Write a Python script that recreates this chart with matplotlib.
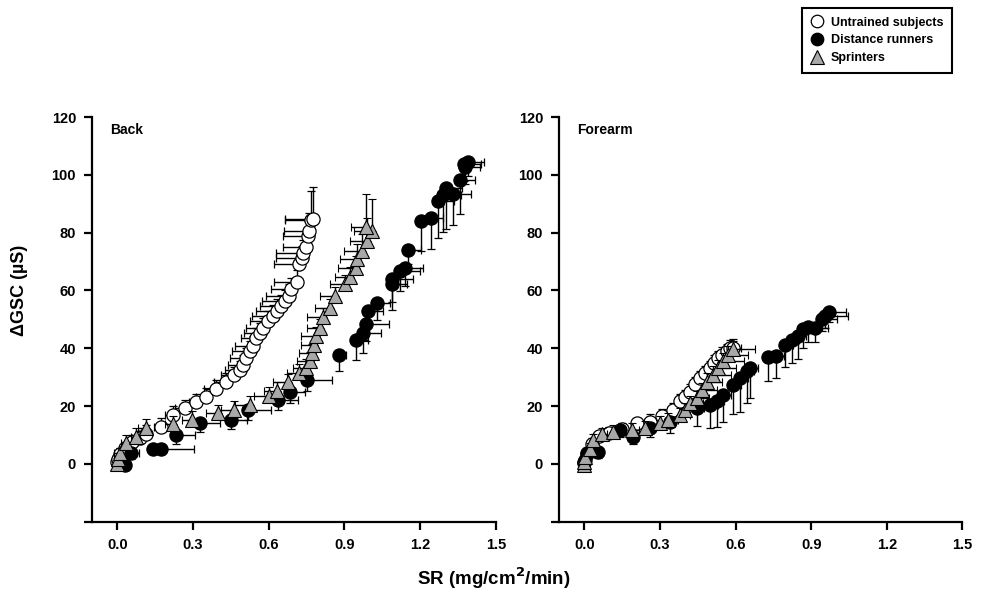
import matplotlib
matplotlib.use("Agg")
import matplotlib.pyplot as plt
from matplotlib.lines import Line2D

plt.rcParams['font.family'] = ['Liberation Sans', 'DejaVu Sans']
plt.rcParams['font.weight'] = 'bold'

# ---------------- Data: Back ----------------
back_untr_x = [0.00, 0.003, 0.01, 0.03, 0.06, 0.09, 0.115, 0.175, 0.22, 0.267, 0.313, 0.353, 0.392,
               0.432, 0.461, 0.485, 0.50, 0.511, 0.524, 0.538, 0.551, 0.564, 0.578, 0.597, 0.615,
               0.631, 0.647, 0.664, 0.681, 0.69, 0.71, 0.721, 0.73, 0.737, 0.747, 0.756, 0.76,
               0.766, 0.776]
back_untr_y = [0.5, 1.8, 3.5, 5.5, 7.5, 9.0, 10.5, 12.9, 17.0, 19.2, 21.3, 23.3, 26.0,
               28.5, 30.6, 32.6, 34.3, 36.6, 39.0, 40.7, 43.6, 45.3, 47.0, 49.4, 51.1,
               52.9, 54.6, 56.3, 58.1, 60.4, 63.0, 69.1, 71.4, 73.1, 74.9, 79.0, 80.7,
               84.4, 84.8]
back_untr_xerr = [0.01, 0.01, 0.01, 0.02, 0.02, 0.03, 0.03, 0.03, 0.03, 0.04, 0.03, 0.04, 0.05,
                  0.05, 0.05, 0.06, 0.06, 0.065, 0.07, 0.07, 0.06, 0.06, 0.07, 0.07, 0.08,
                  0.08, 0.08, 0.09, 0.09, 0.08, 0.09, 0.10, 0.10, 0.11, 0.09, 0.10, 0.10,
                  0.10, 0.11]
back_untr_yerr = [1.5, 1.5, 2, 2, 2.5, 2.5, 3, 3, 3, 3, 3, 3, 3,
                  3, 3, 3, 3.5, 3.5, 3.5, 3.5, 3.5, 3.5, 3.5, 3.5, 4,
                  4, 4, 4, 4, 4, 4, 4, 4, 4.5, 4.5, 5, 6,
                  10, 11]

back_dist_x = [0.029, 0.056, 0.141, 0.175, 0.231, 0.327, 0.452, 0.518, 0.637, 0.684, 0.75,
               0.878, 0.944, 0.975, 0.987, 0.994, 1.03, 1.087, 1.09, 1.12, 1.14, 1.153, 1.202,
               1.242, 1.272, 1.29, 1.304, 1.33, 1.356, 1.372, 1.378, 1.391]
back_dist_y = [-0.5, 3.6, 5.3, 5.3, 10.0, 14.0, 15.2, 18.7, 22.2, 25.0, 29.1,
               37.6, 42.8, 45.3, 48.5, 52.9, 55.8, 62.2, 63.9, 66.8, 67.7, 74.1, 84.2,
               85.1, 90.8, 92.9, 95.5, 93.5, 98.3, 103.9, 102.7, 104.5]
back_dist_xerr = [0.02, 0.03, 0.04, 0.13, 0.076, 0.08, 0.06, 0.09, 0.08, 0.06, 0.10,
                  0.03, 0.05, 0.07, 0.09, 0.06, 0.05, 0.06, 0.08, 0.08, 0.07, 0.05, 0.04,
                  0.05, 0.06, 0.07, 0.06, 0.07, 0.06, 0.07, 0.06, 0.06]
back_dist_yerr = [1.5, 2, 2, 2, 3, 3, 3, 3.5, 3.5, 4, 4,
                  5.6, 6.7, 7, 6, 5, 6, 9, 8, 7, 6, 5, 10.4,
                  10.8, 12.6, 12.7, 14.3, 11, 11.8, 6, 6, 5]

back_spr_x = [0.0, 0.002, 0.009, 0.036, 0.073, 0.112, 0.221, 0.298, 0.40, 0.461, 0.525, 0.602,
              0.631, 0.677, 0.721, 0.747, 0.763, 0.77, 0.779, 0.789, 0.803, 0.813, 0.842, 0.862,
              0.902, 0.922, 0.946, 0.951, 0.968, 0.99, 1.008, 0.985]
back_spr_y = [0.1, 1.8, 3.6, 7.1, 9.4, 12.5, 13.7, 15.2, 17.5, 18.7, 20.4, 23.5,
              25.3, 28.2, 31.4, 33.2, 35.7, 38.4, 41.3, 44.2, 47.1, 50.8, 54.0, 58.1,
              62.2, 64.7, 67.9, 70.9, 73.7, 77.2, 80.7, 81.8]
back_spr_xerr = [0.01, 0.01, 0.02, 0.02, 0.02, 0.03, 0.03, 0.04, 0.05, 0.05, 0.06, 0.06,
                 0.05, 0.06, 0.05, 0.05, 0.05, 0.05, 0.05, 0.06, 0.05, 0.06, 0.06, 0.06,
                 0.06, 0.06, 0.07, 0.07, 0.07, 0.07, 0.07, 0.06]
back_spr_yerr = [2, 2, 2, 3, 3, 3, 3, 3, 3, 3, 3, 3,
                 3, 3, 3, 3, 3, 3, 3, 3, 3, 3, 3, 3,
                 3, 3.5, 4, 5, 6, 8, 11, 11.6]

# ---------------- Data: Forearm ----------------
fore_untr_x = [0.0, 0.003, 0.01, 0.03, 0.06, 0.10, 0.15, 0.208, 0.26, 0.31, 0.353, 0.38, 0.40,
               0.419, 0.44, 0.459, 0.48, 0.499, 0.515, 0.532, 0.548, 0.565, 0.58, 0.591]
fore_untr_y = [0.3, 1.5, 3.5, 7.0, 9.5, 10.8, 12.0, 14.0, 14.6, 16.5, 18.7, 21.6, 23.0,
               25.0, 27.5, 29.7, 31.5, 33.2, 35.0, 36.6, 37.8, 39.0, 40.0, 40.1]
fore_untr_yerr = [1.5, 1.5, 2, 2, 2, 2, 2, 2, 2.5, 2.5, 2.5, 2.5, 2.5,
                  2.5, 2.5, 2.5, 2.5, 2.5, 2.5, 2.5, 2.5, 2.5, 3, 3]
fore_untr_xerr = [0.01, 0.01, 0.01, 0.01, 0.02, 0.02, 0.02, 0.02, 0.02, 0.03, 0.03, 0.03, 0.03,
                  0.03, 0.03, 0.03, 0.03, 0.03, 0.03, 0.03, 0.03, 0.03, 0.03, 0.03]

fore_dist_x = [0.0, 0.01, 0.056, 0.142, 0.194, 0.261, 0.34, 0.446, 0.499, 0.525, 0.552, 0.591,
               0.618, 0.644, 0.658, 0.73, 0.761, 0.796, 0.823, 0.849, 0.869, 0.889, 0.915,
               0.942, 0.955, 0.972]
fore_dist_y = [0.5, 3.6, 4.2, 11.7, 9.4, 12.3, 14.6, 19.2, 20.4, 21.6, 23.9, 27.4,
               29.7, 32.0, 33.2, 36.9, 37.2, 41.3, 42.7, 44.2, 46.5, 47.3, 47.1,
               50.0, 51.1, 52.6]
fore_dist_xerr = [0.01, 0.01, 0.02, 0.02, 0.02, 0.02, 0.02, 0.03, 0.03, 0.03, 0.03, 0.03,
                  0.03, 0.03, 0.03, 0.03, 0.03, 0.03, 0.03, 0.03, 0.03, 0.04, 0.05,
                  0.06, 0.09, 0.066]
fore_dist_yerr = [1.5, 2, 2, 2.5, 2.5, 3, 4, 6, 8, 9, 9.3, 10,
                  11.6, 11, 10.4, 8.3, 7.5, 7.9, 7.8, 7.8, 6.4, 5, 5,
                  4, 4, 3.5]

fore_spr_x = [0.0, 0.0, 0.003, 0.023, 0.036, 0.069, 0.115, 0.188, 0.241, 0.30, 0.333, 0.38,
              0.40, 0.419, 0.446, 0.466, 0.486, 0.512, 0.532, 0.552, 0.571, 0.589]
fore_spr_y = [-0.5, 0.7, 2.4, 5.3, 8.2, 10.5, 11.1, 11.7, 12.5, 14.0, 15.2, 16.9,
              18.7, 21.0, 22.7, 25.6, 28.5, 30.9, 33.1, 35.5, 37.8, 39.6]
fore_spr_xerr = [0.01, 0.01, 0.01, 0.02, 0.02, 0.02, 0.02, 0.03, 0.03, 0.03, 0.04, 0.04,
                 0.04, 0.05, 0.05, 0.06, 0.06, 0.07, 0.07, 0.08, 0.08, 0.09]
fore_spr_yerr = [1.5, 1.5, 2, 2, 2, 2, 2.5, 2.5, 2.5, 2.5, 2.5, 2.5,
                 2.5, 2.5, 2.5, 2.5, 3, 3, 3, 3, 3, 3]

x_ticks = [0.0, 0.3, 0.6, 0.9, 1.2, 1.5]
x_ticklabels = ['0.0', '0.3', '0.6', '0.9', '1.2', '1.5']
y_ticks = [-20, 0, 20, 40, 60, 80, 100, 120]
y_ticklabels = ['', '0', '20', '40', '60', '80', '100', '120']
series_names = ['Untrained subjects', 'Distance runners', 'Sprinters']
panel_names = ['Back', 'Forearm']

fig = plt.figure(figsize=(9.86, 5.94), dpi=100)
ax1 = fig.add_axes([0.0933, 0.1217, 0.4097, 0.6813])
ax2 = fig.add_axes([0.567, 0.1217, 0.4091, 0.6813])

MS = 9.5
eb_kw = dict(ecolor='black', elinewidth=1.0, capsize=2.6, capthick=1.0, linestyle='none')

def draw(ax, ux, uy, uxe_lo, uxe_hi, uye_lo, uye_hi,
         dx, dy, dxe_lo, dxe_hi, dye_lo, dye_hi,
         sx, sy, sxe_lo, sxe_hi, sye_lo, sye_hi):
    ax.errorbar(ux, uy, xerr=[uxe_lo, uxe_hi], yerr=[uye_lo, uye_hi], marker='o', ms=MS,
                mfc='white', mec='black', mew=0.9, zorder=2, **eb_kw)
    ax.errorbar(dx, dy, xerr=[dxe_lo, dxe_hi], yerr=[dye_lo, dye_hi], marker='o', ms=MS,
                mfc='black', mec='black', mew=0.9, zorder=3, **eb_kw)
    ax.errorbar(sx, sy, xerr=[sxe_lo, sxe_hi], yerr=[sye_lo, sye_hi], marker='^', ms=MS + 0.5,
                mfc='#a8a8a8', mec='black', mew=0.8, zorder=4, **eb_kw)

z = lambda a: [0] * len(a)
draw(ax1,
     back_untr_x, back_untr_y, back_untr_xerr, z(back_untr_x), z(back_untr_y), back_untr_yerr,
     back_dist_x, back_dist_y, z(back_dist_x), back_dist_xerr, back_dist_yerr, z(back_dist_y),
     back_spr_x, back_spr_y, back_spr_xerr, z(back_spr_x), z(back_spr_y), back_spr_yerr)
draw(ax2,
     fore_untr_x, fore_untr_y, z(fore_untr_x), fore_untr_xerr, z(fore_untr_y), fore_untr_yerr,
     fore_dist_x, fore_dist_y, z(fore_dist_x), fore_dist_xerr, fore_dist_yerr, z(fore_dist_y),
     fore_spr_x, fore_spr_y, z(fore_spr_x), fore_spr_xerr, z(fore_spr_y), fore_spr_yerr)

for ax, name in zip([ax1, ax2], panel_names):
    ax.set_xlim(-0.1, 1.5)
    ax.set_ylim(-20, 120)
    ax.set_xticks(x_ticks)
    ax.set_xticklabels(x_ticklabels)
    ax.set_yticks(y_ticks)
    ax.set_yticklabels(y_ticklabels)
    for s in ['top', 'right']:
        ax.spines[s].set_visible(False)
    for s in ['left', 'bottom']:
        ax.spines[s].set_linewidth(1.6)
    ax.tick_params(axis='both', direction='out', length=5.5, width=1.6, labelsize=10.5, pad=6)
    for lab in ax.get_xticklabels() + ax.get_yticklabels():
        lab.set_fontweight('bold')
    ax.text(0.045, 0.968, name, transform=ax.transAxes, fontsize=10, fontweight='bold',
            ha='left', va='center')

fig.text(20 / 986, 1 - 290 / 594, 'ΔGSC (µS)', rotation=90, ha='center', va='center',
         fontsize=13, fontweight='bold')
fig.text(494 / 986, 1 - 578 / 594, 'SR (mg/cm$^{\\mathbf{2}}$/min)', ha='center', va='center',
         fontsize=13.5, fontweight='bold')

handles = [
    Line2D([], [], marker='o', ms=9, mfc='white', mec='black', mew=0.9, ls='none'),
    Line2D([], [], marker='o', ms=9, mfc='black', mec='black', mew=0.9, ls='none'),
    Line2D([], [], marker='^', ms=9.5, mfc='#a8a8a8', mec='black', mew=0.8, ls='none'),
]
leg = fig.legend(handles, series_names, loc='upper right', bbox_to_anchor=(952 / 986, 1 - 8 / 594),
                 frameon=True, fancybox=False, edgecolor='black', framealpha=1,
                 prop={'weight': 'bold', 'size': 9}, handletextpad=0.6, labelspacing=0.45,
                 borderpad=0.7, handlelength=1.0, borderaxespad=0)
leg.get_frame().set_linewidth(1.5)

fig.savefig('out.png', dpi=100)
